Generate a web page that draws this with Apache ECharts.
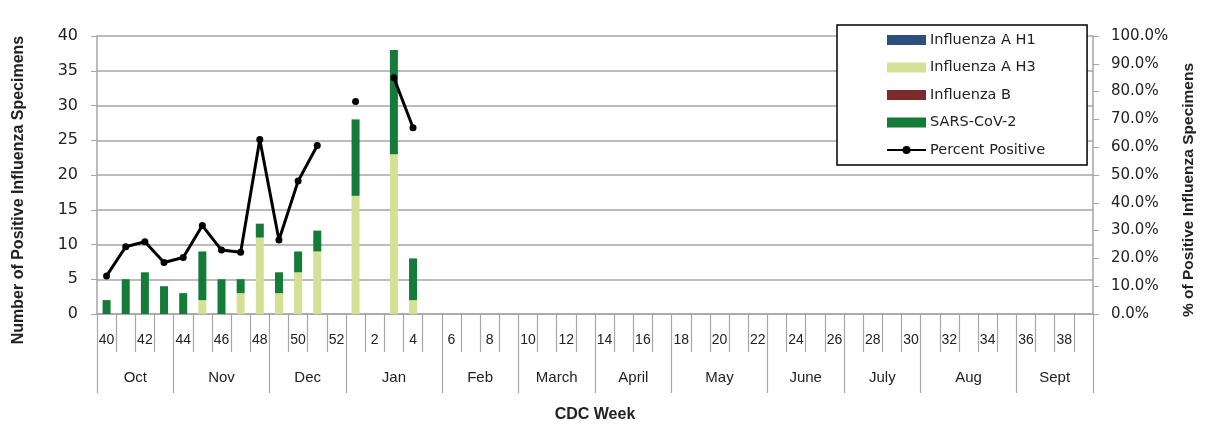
<!DOCTYPE html>
<html>
<head>
<meta charset="utf-8">
<script src="https://cdn.jsdelivr.net/npm/echarts@6/dist/echarts.min.js"></script>
<style>
  html, body { margin: 0; padding: 0; background: #fff; }
  #main { width: 1207px; height: 442px; }
</style>
</head>
<body>
<div id="main"></div>
<script>
// CDC weeks, season starts at week 40
const weeks = ['40','41','42','43','44','45','46','47','48','49','50','51','52',
  '1','2','3','4','5','6','7','8','9','10','11','12','13','14','15','16','17','18','19',
  '20','21','22','23','24','25','26','27','28','29','30','31','32','33','34','35','36','37','38','39'];

const monthNames = ['Oct','Nov','Dec','Jan','Feb','March','April','May','June','July','Aug','Sept'];
const monthWeeks = [4, 5, 4, 5, 4, 4, 4, 5, 4, 4, 5, 4];

// counts per week (weeks 40 .. 4)
const fluAH1 = [0,0,0,0,0,0,0,0,0,0,0,0,0,0,0,0,0];
const fluAH3 = [0,0,0,0,0,2,0,3,11,3,6,9,0,17,0,23,2];
const fluB   = [0,0,0,0,0,0,0,0,0,0,0,0,0,0,0,0,0];
const sarsCov2 = [2,5,6,4,3,7,5,2,2,3,3,3,0,11,0,15,6];
const pctPositive = [13.7,24.2,26.0,18.5,20.3,31.8,23.0,22.2,62.8,26.6,47.8,60.6,null,76.4,null,85.0,67.0];

// month row is laid out on a half-week category axis so labels can sit between weeks
const halfLabels = [];
const halfIdx = [];
for (let i = 0; i <= 104; i++) { halfLabels.push(''); halfIdx.push(String(i)); }
const monthEdges = new Set();
let pos = 0;
monthWeeks.forEach(function (n, i) {
  monthEdges.add(pos * 2);
  halfLabels[pos * 2 + n] = monthNames[i];
  pos += n;
});
monthEdges.add(pos * 2);

const gridGray = '#a6a6a6';
const txt = '#222';
const font = 'Liberation Sans';
const wide = 'DejaVu Sans';

let chart = echarts.init(document.getElementById('main'));
let option = {
  backgroundColor: '#fff',
  animation: false,
  textStyle: { fontFamily: font },
  grid: { left: 97, right: 114, top: 36, bottom: 128 },
  legend: {
    orient: 'vertical',
    left: 837,
    top: 25,
    padding: [7, 42, 7, 49],
    itemWidth: 39,
    itemHeight: 10,
    itemGap: 11.5,
    backgroundColor: '#fff',
    borderColor: '#000',
    borderWidth: 1.5,
    borderRadius: 0,
    textStyle: { fontFamily: wide, fontSize: 14.5, color: txt, lineHeight: 16, padding: [0, 0, 0, -1] },
    data: [
      { name: 'Influenza A H1', icon: 'rect' },
      { name: 'Influenza A H3', icon: 'rect' },
      { name: 'Influenza B', icon: 'rect' },
      { name: 'SARS-CoV-2', icon: 'rect' },
      { name: 'Percent Positive' }
    ]
  },
  xAxis: [
    {
      type: 'category',
      data: weeks,
      boundaryGap: true,
      axisLine: { lineStyle: { color: gridGray, width: 1.5 } },
      axisTick: { show: true, interval: 0, length: 38, lineStyle: { color: gridGray, width: 1.2 } },
      axisLabel: { interval: 1, margin: 19, fontSize: 14, color: txt }
    },
    {
      type: 'category',
      data: halfIdx,
      boundaryGap: false,
      position: 'bottom',
      offset: 38,
      axisLine: { show: true, onZero: false, lineStyle: { color: '#fff', width: 0.5 } },
      axisTick: {
        show: true,
        interval: function (idx) { return monthEdges.has(idx); },
        length: 41,
        lineStyle: { color: gridGray, width: 1.2 }
      },
      axisLabel: {
        interval: function (idx) { return halfLabels[idx] !== ''; },
        formatter: function (v) { return halfLabels[Number(v)]; },
        margin: 18, fontSize: 15, color: txt
      },
      name: 'CDC Week',
      nameLocation: 'middle',
      nameGap: 55,
      nameTextStyle: { fontSize: 16, fontWeight: 'bold', color: txt }
    }
  ],
  yAxis: [
    {
      type: 'value',
      min: 0, max: 40, interval: 5,
      name: 'Number of Positive Influenza Specimens',
      nameLocation: 'middle',
      nameRotate: 90,
      nameGap: 70,
      nameTextStyle: { fontSize: 16, fontWeight: 'bold', color: txt, padding: [0, 30, 0, 0] },
      axisLine: { show: true, lineStyle: { color: gridGray, width: 1.5 } },
      axisTick: { show: true, length: 6, lineStyle: { color: gridGray } },
      axisLabel: { fontFamily: wide, fontSize: 16, color: txt, margin: 19 },
      splitLine: { lineStyle: { color: gridGray, width: 1.5 } }
    },
    {
      type: 'value',
      min: 0, max: 100, interval: 10,
      name: '% of Positive Influenza Specimens',
      nameLocation: 'middle',
      nameRotate: 90,
      nameGap: 88,
      nameTextStyle: { fontSize: 15.5, fontWeight: 'bold', color: txt, padding: [0, 30, 0, 0] },
      axisLine: { show: true, lineStyle: { color: gridGray, width: 1.5 } },
      axisTick: { show: true, length: 6, lineStyle: { color: gridGray } },
      axisLabel: { fontFamily: wide, fontSize: 15, color: txt, margin: 18, formatter: function (v) { return v.toFixed(1) + '%'; } },
      splitLine: { show: false }
    }
  ],
  series: [
    { name: 'Influenza A H1', type: 'bar', stack: 'flu', barWidth: 8, data: fluAH1, itemStyle: { color: '#2c4f7c' } },
    { name: 'Influenza A H3', type: 'bar', stack: 'flu', barWidth: 8, data: fluAH3, itemStyle: { color: '#d3e095' } },
    { name: 'Influenza B', type: 'bar', stack: 'flu', barWidth: 8, data: fluB, itemStyle: { color: '#7b2b2b' } },
    { name: 'SARS-CoV-2', type: 'bar', stack: 'flu', barWidth: 8, data: sarsCov2, itemStyle: { color: '#167a38' } },
    {
      name: 'Percent Positive', type: 'line', yAxisIndex: 1, data: pctPositive,
      symbol: 'circle', symbolSize: 7, connectNulls: false,
      lineStyle: { color: '#000', width: 3 },
      itemStyle: { color: '#000' }
    }
  ]
};

option && chart.setOption(option);
</script>
</body>
</html>
